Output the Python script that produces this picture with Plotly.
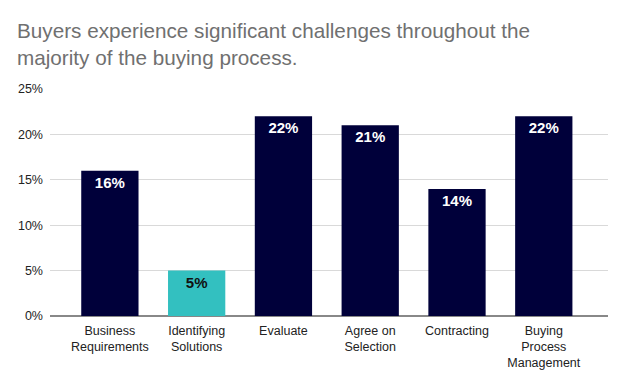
import plotly.graph_objects as go

categories = ["Business<br>Requirements", "Identifying<br>Solutions", "Evaluate",
              "Agree on<br>Selection", "Contracting", "Buying<br>Process<br>Management"]
values = [16, 5, 22, 21, 14, 22]
bar_colors = ["#00003a", "#33c0c0", "#00003a", "#00003a", "#00003a", "#00003a"]
label_colors = ["#ffffff", "#111111", "#ffffff", "#ffffff", "#ffffff", "#ffffff"]
y_ticks = [0, 5, 10, 15, 20, 25]
y_tick_labels = ["0%", "5%", "10%", "15%", "20%", "25%"]
title = "Buyers experience significant challenges throughout the<br>majority of the buying process."

fig = go.Figure(go.Bar(
    x=list(range(len(categories))),
    y=values,
    marker=dict(color=bar_colors, line=dict(width=0)),
    width=0.66,
    text=[f"<b>{v}%</b>" for v in values],
    textposition="inside",
    insidetextanchor="end",
    textfont=dict(family="Liberation Sans, Arial, sans-serif", size=15, color=label_colors),
    constraintext="none",
    cliponaxis=False,
))

fig.update_layout(
    width=624, height=385,
    margin=dict(l=50, r=16, t=89, b=69),
    paper_bgcolor="white", plot_bgcolor="white",
    showlegend=False,
    title=dict(text=title, x=17/624, xref="container", xanchor="left",
               y=1 - 38/385, yref="container", yanchor="top",
               font=dict(family="Liberation Sans, Arial, sans-serif", size=20.7, color="#707070")),
    font=dict(family="Liberation Sans, Arial, sans-serif", size=12, color="#222222"),
    xaxis=dict(tickmode="array", tickvals=list(range(len(categories))), ticktext=categories,
               range=[-0.69, 5.74], showgrid=False, showline=False, zeroline=False,
               ticks="", ticklabelstandoff=5, tickfont=dict(size=12.5, color="#222222")),
    yaxis=dict(range=[0, 25], tickvals=y_ticks, ticktext=y_tick_labels,
               showgrid=True, gridcolor="#d9d9d9", gridwidth=1,
               zeroline=True, zerolinecolor="#888888", zerolinewidth=2,
               showline=False, ticks="", ticklabelstandoff=6,
               tickfont=dict(size=12.5, color="#222222")),
)

fig.write_html("out.html", config={"displayModeBar": False},
               post_script="document.body.style.margin='0';document.body.style.overflow='hidden';")
